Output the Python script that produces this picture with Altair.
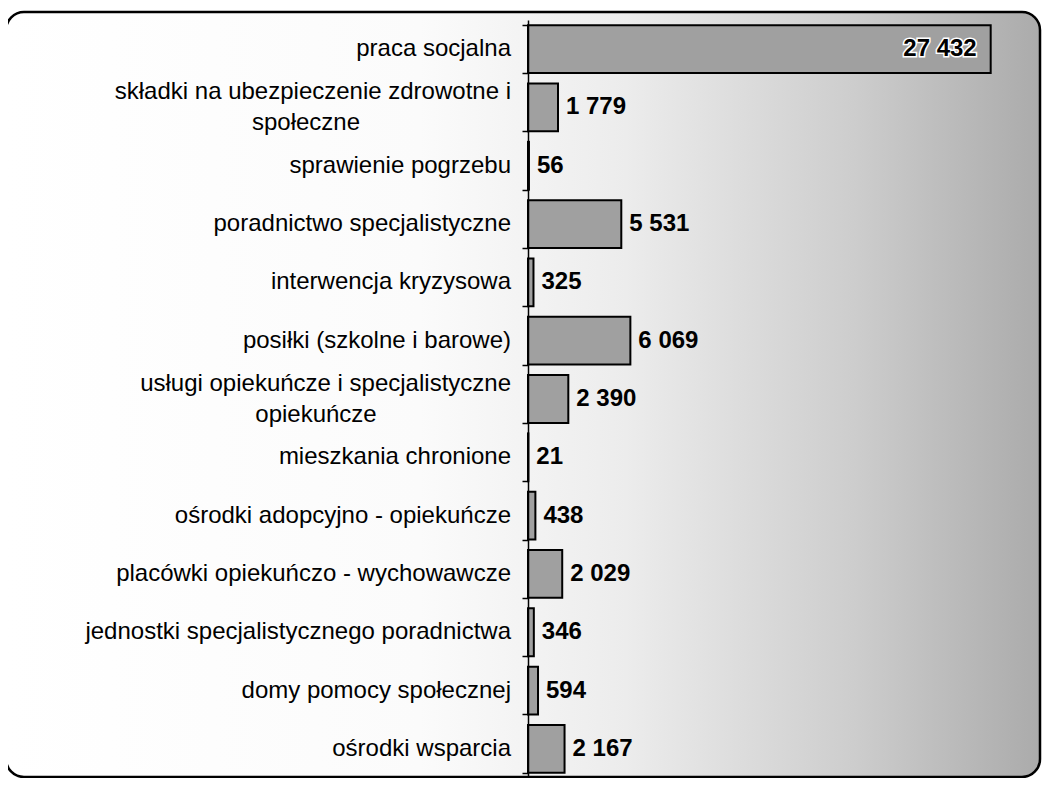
import altair as alt
import pandas as pd

categories = [
    "praca socjalna",
    "składki na ubezpieczenie zdrowotne i|społeczne",
    "sprawienie pogrzebu",
    "poradnictwo specjalistyczne\u00a0",
    "interwencja kryzysowa",
    "posiłki (szkolne i barowe)",
    "usługi opiekuńcze i specjalistyczne|opiekuńcze",
    "mieszkania chronione",
    "ośrodki adopcyjno - opiekuńcze",
    "placówki opiekuńczo - wychowawcze",
    "jednostki specjalistycznego poradnictwa",
    "domy pomocy społecznej",
    "ośrodki wsparcia",
]
values = [27432, 1779, 56, 5531, 325, 6069, 2390, 21, 438, 2029, 346, 594, 2167]
value_labels = ["27 432", "1 779", "56", "5 531", "325", "6 069", "2 390",
                "21", "438", "2 029", "346", "594", "2 167"]
x_max = 30000

df = pd.DataFrame({
    "category": categories,
    "value": values,
    "label": value_labels,
})
df["inside"] = df["value"] == df["value"].max()
df["multi"] = df["category"].str.contains("|", regex=False)
df["line1"] = df["category"].str.split("|").str[0]
df["line2"] = df["category"].str.split("|").str[1].fillna("")

W, H = 506, 758
FONT = "Liberation Sans"
FS = 24
LINE_H = 31
LABEL_X = -17

y_axis = alt.Y(
    "category:N",
    sort=categories,
    scale=alt.Scale(paddingInner=0.18, paddingOuter=0.09),
    axis=alt.Axis(
        title=None,
        labels=False,
        tickBand="extent",
        tickColor="black",
        tickSize=6,
        tickWidth=1.5,
        domainColor="black",
        domainWidth=1.5,
        grid=False,
        zindex=1,
    ),
)
y_plain = alt.Y("category:N", sort=categories)
x_enc = alt.X("value:Q", scale=alt.Scale(domain=[0, x_max], nice=False), axis=None)

one = pd.DataFrame({"k": [0]})
grad = alt.Gradient(
    gradient="linear",
    stops=[
        alt.GradientStop(color="#ffffff", offset=0),
        alt.GradientStop(color="#fbfbfb", offset=0.4),
        alt.GradientStop(color="#ececec", offset=0.6),
        alt.GradientStop(color="#cdcdcd", offset=0.82),
        alt.GradientStop(color="#ababab", offset=1),
    ],
    x1=0, x2=1, y1=0, y2=0,
)
bg = alt.Chart(one).mark_rect(fill=grad, cornerRadius=18).encode(
    x=alt.value(-522), x2=alt.value(512), y=alt.value(-8), y2=alt.value(H - 1)
)
border = alt.Chart(one).mark_rect(
    fillOpacity=0, stroke="black", strokeWidth=2.5, cornerRadius=18
).encode(
    x=alt.value(-522), x2=alt.value(512), y=alt.value(-8), y2=alt.value(H - 1)
)

base = alt.Chart(df)
bars = base.mark_bar(fill="#a0a0a0", stroke="black", strokeWidth=2).encode(
    x=x_enc, y=y_axis
)

cat_single = base.transform_filter("!datum.multi").mark_text(
    font=FONT, fontSize=FS, align="right", baseline="middle", color="black"
).encode(x=alt.value(LABEL_X), y=y_plain, text="line1:N")
cat_l1 = base.transform_filter("datum.multi").mark_text(
    font=FONT, fontSize=FS, align="right", baseline="middle", color="black",
    dy=-LINE_H / 2
).encode(x=alt.value(LABEL_X), y=y_plain, text="line1:N")

# second lines are centred under the first line (as in the original wrapping)
line2_layers = []
for cat, half_w in [(categories[1], 205), (categories[6], 195)]:
    line2_layers.append(
        base.transform_filter(alt.datum.category == cat).mark_text(
            font=FONT, fontSize=FS, align="center", baseline="middle",
            color="black", dy=LINE_H / 2
        ).encode(x=alt.value(LABEL_X - half_w), y=y_plain, text="line2:N")
    )

text_out = base.transform_filter("!datum.inside").mark_text(
    font=FONT, fontSize=FS, fontWeight="bold", align="left", baseline="middle",
    dx=8, color="black"
).encode(x=x_enc, y=y_plain, text="label:N")
text_in_halo = base.transform_filter("datum.inside").mark_text(
    font=FONT, fontSize=FS, fontWeight="bold", align="right", baseline="middle",
    dx=-14, color="white", stroke="white", strokeWidth=3
).encode(x=x_enc, y=y_plain, text="label:N")
text_in = base.transform_filter("datum.inside").mark_text(
    font=FONT, fontSize=FS, fontWeight="bold", align="right", baseline="middle",
    dx=-14, color="black"
).encode(x=x_enc, y=y_plain, text="label:N")

chart = alt.layer(
    bg, bars, cat_single, cat_l1, *line2_layers,
    text_out, text_in_halo, text_in, border
).properties(
    width=W,
    height=H,
    autosize=alt.AutoSizeParams(type="none"),
    padding={"left": 520, "top": 12, "right": 8, "bottom": 0},
    background="white",
).configure_view(stroke=None)

chart.save("out.html", embed_options={"renderer": "svg", "actions": False})
